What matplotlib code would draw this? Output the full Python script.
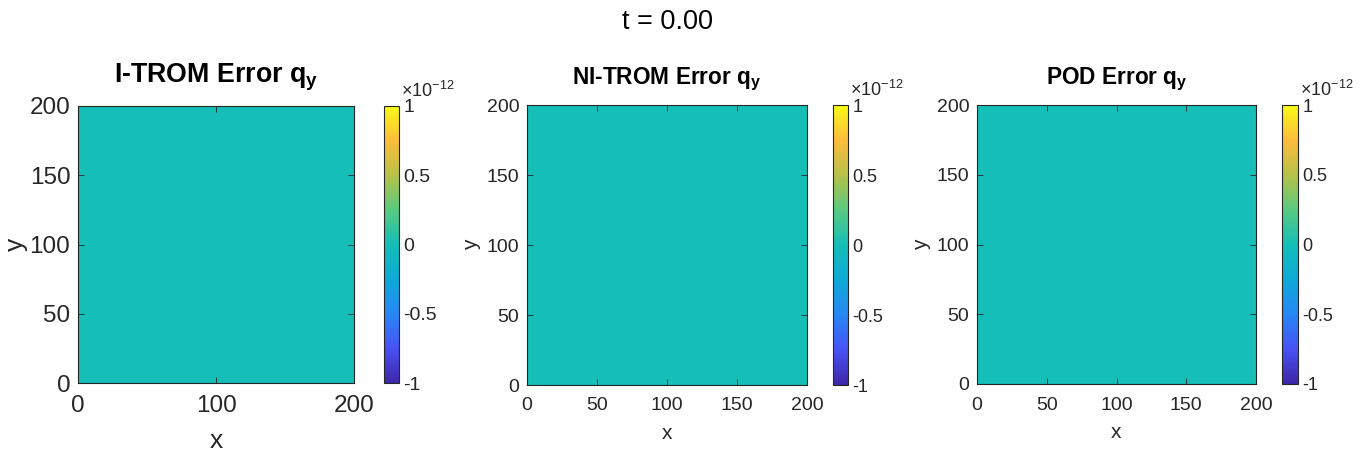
import numpy as np
import matplotlib
matplotlib.use("Agg")
import matplotlib.pyplot as plt
from matplotlib.colors import LinearSegmentedColormap
from matplotlib.ticker import FuncFormatter

plt.rcParams["font.family"] = ["Liberation Sans", "DejaVu Sans"]
plt.rcParams["mathtext.fontset"] = "custom"
plt.rcParams["mathtext.rm"] = "Liberation Sans"
plt.rcParams["mathtext.it"] = "Liberation Sans"
plt.rcParams["mathtext.bf"] = "Liberation Sans:bold"

# ---- data ---------------------------------------------------------------
x_grid = np.arange(0, 201)          # 0 .. 200
y_grid = np.arange(0, 201)
err_itrom = np.zeros((201, 201))    # t = 0 : all errors are zero
err_nitrom = np.zeros((201, 201))
err_pod = np.zeros((201, 201))

titles = ["I-TROM Error", "NI-TROM Error", "POD Error"]
clim = (-1e-12, 1e-12)
cbar_ticks = [-1e-12, -0.5e-12, 0, 0.5e-12, 1e-12]
time_value = 0.00

# parula-like colormap
parula_pts = [
    (0.000, (0.2422, 0.1504, 0.6603)),
    (0.125, (0.2810, 0.3228, 0.9579)),
    (0.250, (0.1540, 0.5302, 0.9618)),
    (0.375, (0.0536, 0.6634, 0.8462)),
    (0.500, (0.0780, 0.7450, 0.7200)),
    (0.625, (0.3490, 0.7929, 0.5047)),
    (0.750, (0.7123, 0.7578, 0.2815)),
    (0.875, (0.9908, 0.7382, 0.2394)),
    (1.000, (0.9769, 0.9839, 0.0805)),
]
parula = LinearSegmentedColormap.from_list("parula", parula_pts)

# ---- layout (pixels) ------------------------------------------------------
W, H = 1365, 455
ax_px = [(78, 354, 106, 383), (527, 807, 105, 385), (977, 1256, 105, 384)]
cb_px = [(384, 399), (833, 848), (1282, 1298)]
big = [True, False, False]
dark = "#262626"

fig = plt.figure(figsize=(W / 100, H / 100), dpi=100)
fields = [err_itrom, err_nitrom, err_pod]

for i in range(3):
    l, r, t, b = ax_px[i]
    ax = fig.add_axes([l / W, 1 - b / H, (r - l) / W, (b - t) / H])
    im = ax.pcolormesh(x_grid, y_grid, fields[i], cmap=parula,
                       vmin=clim[0], vmax=clim[1], shading="auto")
    ax.set_xlim(0, 200)
    ax.set_ylim(0, 200)

    tick_fs = 17.5 if big[i] else 14
    if big[i]:
        ax.set_xticks([0, 100, 200])
    else:
        ax.set_xticks([0, 50, 100, 150, 200])
    ax.set_yticks([0, 50, 100, 150, 200])
    ax.tick_params(direction="in", top=True, right=True, length=4,
                   width=0.6, labelsize=tick_fs, colors=dark,
                   labelcolor=dark)
    ax.tick_params(axis="x", pad=9)
    ax.tick_params(axis="y", pad=5.5)
    for s in ax.spines.values():
        s.set_linewidth(0.8)
        s.set_color(dark)

    lab_fs = 19 if big[i] else 15
    ax.set_xlabel("x", fontsize=lab_fs, color=dark,
                  labelpad=8 if big[i] else 7)
    ax.set_ylabel("y", fontsize=lab_fs, color=dark,
                  labelpad=1 if big[i] else 4)

    title_fs = 19.3 if big[i] else 16.3
    ax.set_title(titles[i] + r" $\mathbf{q_y}$", fontsize=title_fs,
                 fontweight="bold", pad=17 if big[i] else 15)

    cl, cr = cb_px[i]
    cax = fig.add_axes([cl / W, 1 - b / H, (cr - cl) / W, (b - t) / H])
    cb = fig.colorbar(im, cax=cax, ticks=cbar_ticks)
    cb.ax.yaxis.set_major_formatter(FuncFormatter(lambda v, p: "%g" % (v * 1e12)))
    cb.ax.tick_params(length=0, labelsize=14 if big[i] else 13,
                      labelcolor=dark, pad=3)
    cb.outline.set_linewidth(0.8)
    cb.outline.set_edgecolor(dark)
    fig.text((cr + 2) / W, 1 - (t - 9) / H, r"$\times10^{-12}$",
             fontsize=13, color=dark, ha="left", va="baseline")

fig.text(668 / W, 1 - 22 / H, "t = %.2f" % time_value, fontsize=19.5,
         ha="center", va="center")

fig.savefig("out.png", dpi=100)
